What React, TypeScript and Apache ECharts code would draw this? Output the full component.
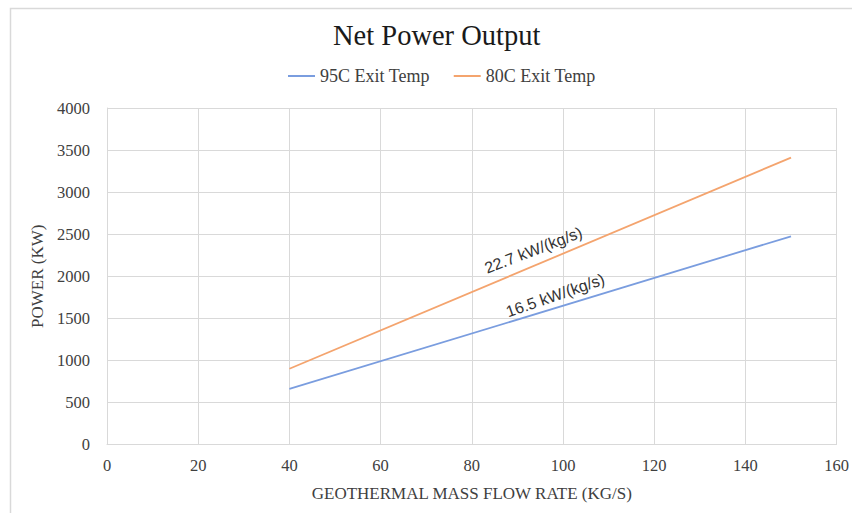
import React, { useEffect, useRef } from "react";
import * as echarts from "echarts";

const seriesNames = ["95C Exit Temp", "80C Exit Temp"];
const flow95 = [40, 150];
const power95 = [660, 2475];
const flow80 = [40, 150];
const power80 = [900, 3410];
const slopeLabels = ["16.5 kW/(kg/s)", "22.7 kW/(kg/s)"];
const labelAt95 = [98.3, 1772];
const labelAt80 = [93.5, 2310];
const xTicks = { min: 0, max: 160, interval: 20 };
const yTicks = { min: 0, max: 4000, interval: 500 };

const serif = "'Liberation Serif', 'Times New Roman', serif";
const sans = "'Liberation Sans', 'Open Sans', sans-serif";

export default function App() {
  const ref = useRef<HTMLDivElement>(null);
  useEffect(() => {
    if (!ref.current) return;
    const chart = echarts.init(ref.current, undefined, { renderer: "svg" });
    const mk = (coord: number[], text: string, rot: number) => ({
      symbol: "circle",
      symbolSize: 0,
      silent: true,
      label: {
        show: true,
        position: "inside",
        formatter: text,
        rotate: rot,
        color: "#333333",
        fontSize: 16,
        fontFamily: sans,
      },
      data: [{ coord }],
    });
    chart.setOption({
      animation: false,
      backgroundColor: "#ffffff",
      title: {
        text: "Net Power Output",
        left: 333,
        top: 21,
        padding: 0,
        textStyle: { fontFamily: serif, fontSize: 28.5, fontWeight: "normal", color: "#1a1a1a" },
      },
      legend: {
        data: seriesNames,
        left: 288,
        top: 67,
        padding: 0,
        icon: "rect",
        itemWidth: 27,
        itemHeight: 2,
        itemGap: 24,
        textStyle: { fontFamily: serif, fontSize: 18, color: "#404040" },
      },
      grid: { left: 107, right: 15, top: 108, bottom: 68.5, containLabel: false },
      xAxis: {
        type: "value",
        min: xTicks.min,
        max: xTicks.max,
        interval: xTicks.interval,
        name: "GEOTHERMAL MASS FLOW RATE (KG/S)",
        nameLocation: "middle",
        nameGap: 40,
        nameTextStyle: { fontFamily: serif, fontSize: 17, color: "#404040", verticalAlign: "top" },
        axisLine: { show: true, lineStyle: { color: "#d9d9d9", width: 1 } },
        axisTick: { show: false },
        axisLabel: { fontFamily: serif, fontSize: 16.5, color: "#404040", margin: 12 },
        splitLine: { show: true, lineStyle: { color: "#d9d9d9", width: 1 } },
      },
      yAxis: {
        type: "value",
        min: yTicks.min,
        max: yTicks.max,
        interval: yTicks.interval,
        name: "POWER (KW)",
        nameLocation: "middle",
        nameGap: 60,
        nameRotate: 90,
        nameTextStyle: { fontFamily: serif, fontSize: 17, color: "#404040" },
        axisLine: { show: true, lineStyle: { color: "#d9d9d9", width: 1 } },
        axisTick: { show: false },
        axisLabel: {
          fontFamily: serif,
          fontSize: 16.5,
          color: "#404040",
          margin: 17,
          formatter: (v: number) => String(v),
        },
        splitLine: { show: true, lineStyle: { color: "#d9d9d9", width: 1 } },
      },
      graphic: [
        {
          type: "rect",
          silent: true,
          shape: { x: 10.5, y: 8.5, width: 900, height: 600 },
          style: { fill: "none", stroke: "#d9d9d9", lineWidth: 1.5 },
        },
      ],
      series: [
        {
          name: seriesNames[0],
          type: "line",
          symbol: "none",
          color: "#7a9ddf",
          itemStyle: { color: "#7a9ddf" },
          lineStyle: { width: 1.8, color: "#7a9ddf" },
          data: flow95.map((x, i) => [x, power95[i]]),
          markPoint: mk(labelAt95, slopeLabels[0], 19),
        },
        {
          name: seriesNames[1],
          type: "line",
          symbol: "none",
          color: "#f4a46e",
          itemStyle: { color: "#f4a46e" },
          lineStyle: { width: 1.8, color: "#f4a46e" },
          data: flow80.map((x, i) => [x, power80[i]]),
          markPoint: mk(labelAt80, slopeLabels[1], 21),
        },
      ],
    });
    return () => chart.dispose();
  }, []);
  return (
    <div
      ref={ref}
      style={{ position: "absolute", left: 0, top: 0, width: 852, height: 513 }}
    />
  );
}
